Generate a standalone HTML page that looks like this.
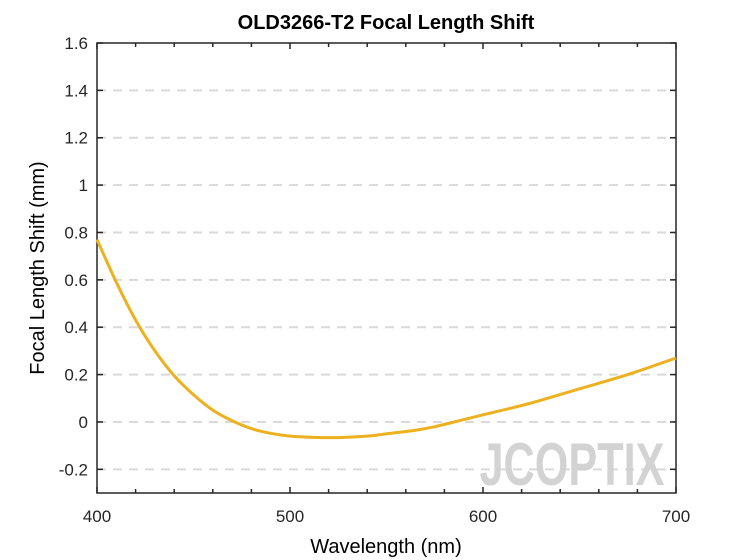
<!DOCTYPE html>
<html><head><meta charset="utf-8"><style>
body{margin:0;background:#fff;}
svg{display:block;font-family:"Liberation Sans",Arial,sans-serif;}
</style></head><body>
<svg id="chart" width="747" height="560">
<text x="386" y="29" text-anchor="middle" font-size="20" font-weight="bold" fill="#000">OLD3266-T2 Focal Length Shift</text>
<g id="grid"></g>
<g opacity="0.9">
<text x="572" y="485" text-anchor="middle" font-size="60" font-weight="bold" fill="#cfcfcf" textLength="185" lengthAdjust="spacingAndGlyphs">JCOPTIX</text>
</g>
<g id="axes"></g>
<path id="curve" fill="none" stroke="#EDB120" stroke-width="3"></path>
<text x="386" y="553" text-anchor="middle" font-size="20">Wavelength (nm)</text>
<text transform="translate(44,268) rotate(-90)" text-anchor="middle" font-size="20">Focal Length Shift (mm)</text>
</svg>
<script>
const wavelengths=[400,410,420,430,440,450,460,470,480,490,500,512,525,540,550,565,575,590,600,625,650,675,700];
const shifts=[0.77,0.59,0.43,0.30,0.195,0.115,0.05,0.005,-0.028,-0.048,-0.06,-0.065,-0.066,-0.06,-0.05,-0.035,-0.02,0.01,0.03,0.08,0.14,0.20,0.27];
const xTicks=[400,500,600,700];
const yTicks=[-0.2,0,0.2,0.4,0.6,0.8,1,1.2,1.4,1.6];
const X0=97,X1=676,Y0=43,Y1=493,xmin=400,xmax=700,ymin=-0.3,ymax=1.6;
const NS="http://www.w3.org/2000/svg";
function sx(v){return X0+(v-xmin)/(xmax-xmin)*(X1-X0);}
function sy(v){return Y1-(v-ymin)/(ymax-ymin)*(Y1-Y0);}
function mk(t,a,p){const e=document.createElementNS(NS,t);for(const k in a)e.setAttribute(k,a[k]);p.appendChild(e);return e;}
const grid=document.getElementById('grid'),axes=document.getElementById('axes');
yTicks.forEach(v=>{if(v===1.6)return;const l=mk('line',{x1:X0,x2:X1,y1:sy(v),y2:sy(v),stroke:'#d9d9d9','stroke-width':2,'stroke-dasharray':'9,7'},grid);

});
const box=mk('rect',{x:X0,y:Y0,width:X1-X0,height:Y1-Y0,fill:'none',stroke:'#262626','stroke-width':1.5},axes);


yTicks.forEach(v=>{const y=sy(v);
mk('line',{x1:X0,x2:X0+6,y1:y,y2:y,stroke:'#262626','stroke-width':1.5},axes);
mk('line',{x1:X1,x2:X1-6,y1:y,y2:y,stroke:'#262626','stroke-width':1.5},axes);
const t=mk('text',{x:X0-9,y:y+6,'text-anchor':'end','font-size':17,fill:'#262626'},axes);t.textContent=String(v);

});
for(let v=400;v<=700;v+=20){const x=sx(v);const big=v%100===0?6:4;
mk('line',{x1:x,x2:x,y1:Y1,y2:Y1-big,stroke:'#262626','stroke-width':1.5},axes);
mk('line',{x1:x,x2:x,y1:Y0,y2:Y0+big,stroke:'#262626','stroke-width':1.5},axes);}
xTicks.forEach(v=>{const t=mk('text',{x:sx(v),y:522,'text-anchor':'middle','font-size':17,fill:'#262626'},axes);t.textContent=String(v);

});
const pts=wavelengths.map((w,i)=>[sx(w),sy(shifts[i])]);
let d='M'+pts[0][0]+','+pts[0][1];
for(let i=0;i<pts.length-1;i++){const p0=pts[i-1]||pts[i],p1=pts[i],p2=pts[i+1],p3=pts[i+2]||p2;
d+=' C'+(p1[0]+(p2[0]-p0[0])/6)+','+(p1[1]+(p2[1]-p0[1])/6)+' '+(p2[0]-(p3[0]-p1[0])/6)+','+(p2[1]-(p3[1]-p1[1])/6)+' '+p2[0]+','+p2[1];}
document.getElementById('curve').setAttribute('d',d);
</script>
</body></html>
